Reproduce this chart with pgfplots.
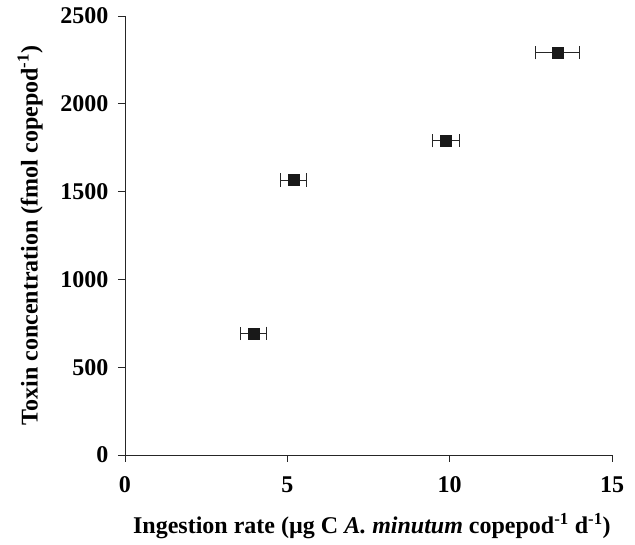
\documentclass[border=0pt]{standalone}
\usepackage{fontspec}
\setmainfont{Liberation Serif}
\usepackage{pgfplots}
\pgfplotsset{compat=1.18}
\begin{document}
\begin{tikzpicture}
\begin{axis}[
  scale only axis,
  width=487pt, height=439pt,
  xmin=0, xmax=15, ymin=0, ymax=2500,
  xtick={0,5,10,15}, ytick={0,500,1000,1500,2000,2500},
  axis lines*=left,
  tick align=outside,
  major tick length=7pt,
  axis line style={line width=0.9pt, black!85},
  tick style={line width=0.9pt, black!85},
  /pgf/number format/assume math mode=true,
  /pgf/number format/1000 sep={},
  ticklabel style={font=\fontsize{24}{27}\selectfont\bfseries},
  xticklabel style={yshift=-11pt},
  yticklabel style={xshift=-6pt},
  label style={font=\fontsize{24}{27}\selectfont\bfseries},
  xlabel={Ingestion rate (µg C \textit{A.} \textit{minutum} copepod\textsuperscript{-1} d\textsuperscript{-1})},
  ylabel={Toxin concentration (fmol copepod\textsuperscript{-1})},
  xlabel style={at={(axis description cs:0.507,-0.178)}, anchor=base},
  ylabel style={at={(axis description cs:-0.195,0.5)}, anchor=center},
  clip=false,
]
\addplot[only marks, mark=square*, mark size=5.6pt, black!90,
  error bars/.cd, x dir=both, x explicit,
  error mark=|,
  error bar style={line width=0.8pt, black!85},
  error mark options={mark size=6.8pt, line width=0.8pt, black!85}]
  coordinates {
  (3.96,693) +- (0.41,0)
  (5.19,1566) +- (0.41,0)
  (9.88,1790) +- (0.41,0)
  (13.33,2291) +- (0.68,0)
};
\end{axis}
\pgfresetboundingbox
\path (current axis.south west) ++(-125pt,-90pt) rectangle ++(635pt,545pt);
\end{tikzpicture}
\end{document}
